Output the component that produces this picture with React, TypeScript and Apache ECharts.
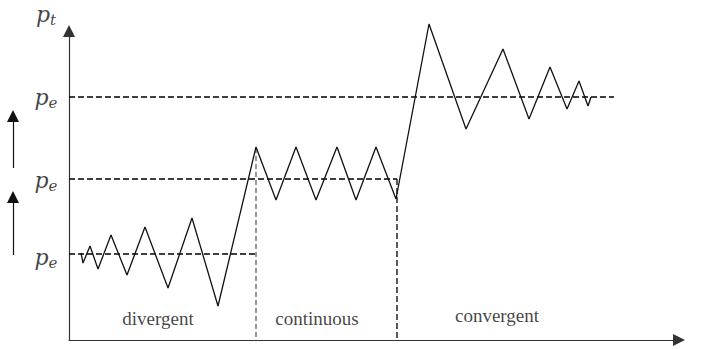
import React, { useEffect, useRef } from "react";
import * as echarts from "echarts";

// Chart units: x = time (0 at the y-axis), y = price (0 at the x-axis)
const priceX = [12, 14, 21, 29, 42, 58, 76, 99, 123, 149, 187, 207, 227, 247, 268, 287, 307, 327, 360, 397, 434, 460, 481, 498, 510, 519, 522];
const priceY = [87, 77, 94, 71, 105, 65, 113, 52, 122, 34, 193, 140, 193, 140, 193, 140, 193, 141, 316, 211, 291, 221, 273, 231, 259, 234, 243];

const equilibriumLevels = [243, 161, 86];
const equilibriumEnds = [545, 328, 187];
const dropX = [328, 187];
const dropTop = [161, 192];

const regionNames = ["divergent", "continuous", "convergent"];
const regionX = [89, 248, 428];
const regionY = [22, 22, 25];

const levelLabelSubs = ["t", "e", "e", "e"];
const levelLabelY = [326, 243, 160, 83];
const levelLabelX = -23;

const shiftArrowX = -56;
const shiftArrowFrom = [172, 85];
const shiftArrowTo = [224, 143];

export default function App() {
  const ref = useRef<HTMLDivElement>(null);
  useEffect(() => {
    const chart = echarts.init(ref.current!, null, { renderer: "svg" });
    const serif = "Liberation Serif";
    const mathFont = "DejaVu Serif";
    const series: any[] = [];
    equilibriumLevels.forEach((lv, i) => {
      series.push({
        type: "line",
        data: [[0, lv], [equilibriumEnds[i], lv]],
        symbol: "none",
        silent: true,
        clip: false,
        lineStyle: { color: "#000", width: 1.3, type: [6, 3] },
      });
    });
    dropX.forEach((x, i) => {
      series.push({
        type: "line",
        data: [[x, dropTop[i]], [x, 2]],
        symbol: "none",
        silent: true,
        clip: false,
        lineStyle: i === 0 ? { color: "#000", width: 1.3, type: [6, 3] } : { color: "#999", width: 2, type: [5, 3] },
      });
    });
    series.push({
      type: "line",
      data: priceX.map((x, i) => [x, priceY[i]]),
      symbol: "none",
      silent: true,
      clip: false,
      lineStyle: { color: "#111", width: 1.3 },
    });
    series.push({
      type: "scatter",
      symbolSize: 0,
      silent: true,
      clip: false,
      data: regionNames.map((n, i) => ({ name: n, value: [regionX[i], regionY[i]] })),
      label: {
        show: true,
        position: "inside",
        formatter: (p: any) => `{t|${p.name}}`,
        rich: {
          t: { fontFamily: serif, fontSize: 19, color: "#111" },
        },
      },
    });
    series.push({
      type: "scatter",
      symbolSize: 0,
      silent: true,
      clip: false,
      data: levelLabelSubs.map((s, i) => ({ name: s, value: [levelLabelX, levelLabelY[i]] })),
      label: {
        show: true,
        position: "inside",
        formatter: (p: any) => `{p|p}{s|${p.name}}`,
        rich: {
          p: { fontFamily: mathFont, fontStyle: "italic", fontSize: 22, color: "#111", lineHeight: 26 },
          s: { fontFamily: mathFont, fontStyle: "italic", fontSize: 15, color: "#111", lineHeight: 16, verticalAlign: "bottom" },
        },
      },
    });
    series.push({
      type: "lines",
      coordinateSystem: "cartesian2d",
      silent: true,
      clip: false,
      symbol: ["none", "triangle"],
      symbolSize: 12,
      lineStyle: { color: "#111", width: 1.2, opacity: 1 },
      data: shiftArrowFrom.map((f, i) => ({ coords: [[shiftArrowX, f], [shiftArrowX, shiftArrowTo[i]]] })),
    });
    chart.setOption({
      animation: false,
      grid: { left: 69, right: 26, top: 31, bottom: 9 },
      xAxis: {
        type: "value",
        min: 0,
        max: 610,
        axisLine: { show: true, symbol: ["none", "triangle"], symbolSize: [12, 12], lineStyle: { color: "#333", width: 1.2 } },
        axisTick: { show: false },
        axisLabel: { show: false },
        splitLine: { show: false },
      },
      yAxis: {
        type: "value",
        min: 0,
        max: 309,
        axisLine: { show: true, symbol: ["none", "triangle"], symbolSize: [12, 12], lineStyle: { color: "#333", width: 1.2 } },
        axisTick: { show: false },
        axisLabel: { show: false },
        splitLine: { show: false },
      },
      series,
    });
    return () => chart.dispose();
  }, []);
  return <div ref={ref} style={{ position: "absolute", left: 0, top: 0, width: 705, height: 349 }} />;
}
